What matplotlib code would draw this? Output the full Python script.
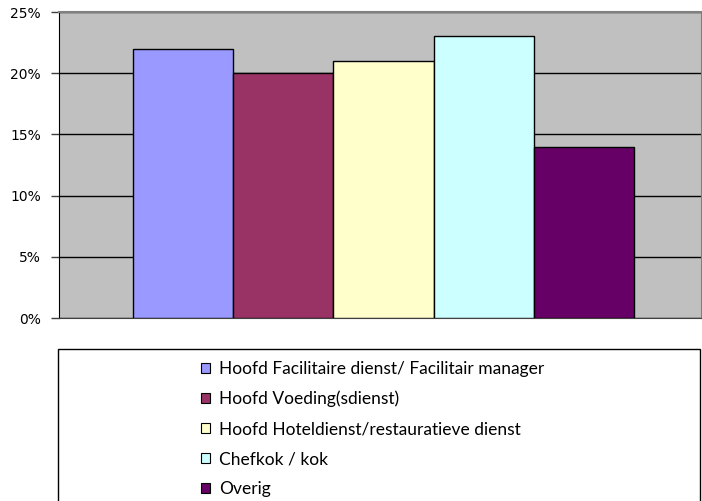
import matplotlib.pyplot as plt
from matplotlib.patches import Patch, Rectangle
from matplotlib.ticker import PercentFormatter

categories = ['Hoofd Facilitaire dienst/ Facilitair manager',
              'Hoofd Voeding(sdienst)',
              'Hoofd Hoteldienst/restauratieve dienst',
              'Chefkok / kok',
              'Overig']
values = [22, 20, 21, 23, 14]
colors = ['#9999FF', '#993366', '#FFFFCC', '#CCFFFF', '#660066']

W, H = 702, 501
fig = plt.figure(figsize=(W / 100, H / 100), dpi=100)
ax = fig.add_axes([59 / W, 1 - 318 / H, 642 / W, 306 / H])
ax.set_facecolor('#C0C0C0')

ax.bar(range(len(values)), values, width=1.0, color=colors,
       edgecolor='black', linewidth=1, zorder=3)

ax.set_ylim(0, 25)
ax.set_xlim(-1.239, 5.169)
ax.set_yticks([0, 5, 10, 15, 20, 25])
ax.yaxis.set_major_formatter(PercentFormatter(decimals=0))
ax.set_xticks([])
ax.grid(axis='y', color='black', linewidth=1, zorder=1)
ax.tick_params(axis='y', direction='out', length=6, width=1,
               color='#404040', pad=7, labelsize=10)
for lab in ax.get_yticklabels():
    lab.set_family('DejaVu Sans')

ax.spines['left'].set_color('black')
ax.spines['bottom'].set_color('#404040')
ax.spines['top'].set_color('#808080')
ax.spines['right'].set_color('#808080')
ax.spines['top'].set_linewidth(1.5)

# legend box
fig.patches.append(Rectangle((58 / W, -0.05), 642 / W, 0.05 + (501 - 349) / H,
                             transform=fig.transFigure, facecolor='white',
                             edgecolor='black', linewidth=1))

handles = [Patch(facecolor=c, edgecolor='black', linewidth=0.8) for c in colors]
leg = fig.legend(handles, categories, loc='upper left',
                 bbox_to_anchor=(201 / W, 1 - 361 / H), frameon=False,
                 prop={'family': 'Lato', 'size': 12.5}, borderpad=0,
                 handlelength=0.5, handleheight=0.5, handletextpad=0.55,
                 labelspacing=0.8, borderaxespad=0)

fig.savefig('out.png', dpi=100)
plt.close(fig)
